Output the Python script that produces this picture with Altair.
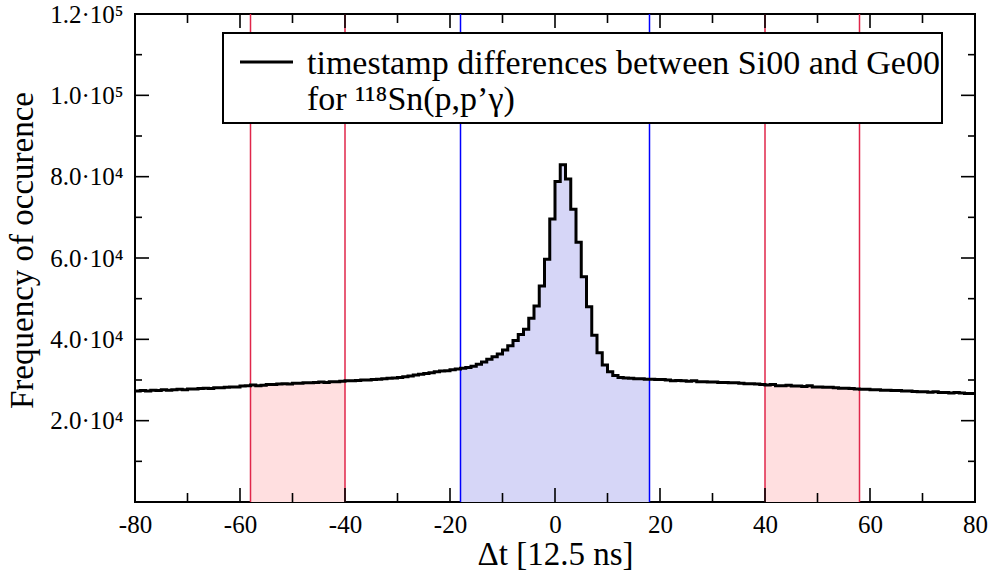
import altair as alt
import pandas as pd

# ---------------- data ----------------
# histogram bins of width 1, left edges -80 ... 79
bin_left = list(range(-80, 80))
# counts for bins -80 ... -19 (62 bins)
counts_left = [
    27300, 27400, 27300, 27500, 27400, 27600, 27500, 27600, 27700, 27600, 27800,
    27800, 27900, 28000, 27900, 28100, 28100, 28200, 28300, 28300, 28500, 28600,
    28800, 28600, 28700, 28900, 28900, 29000, 29100, 29000, 29200, 29200, 29300,
    29300, 29400, 29500, 29400, 29600, 29600, 29700,
    29800, 29800, 29900, 30000, 30000, 30100, 30200, 30300, 30400, 30500, 30600,
    30800, 31000, 31200, 31400, 31600, 31800, 32000, 32200, 32300, 32500, 32700,
]
# counts for bins -18 ... 17 (36 bins)
counts_peak = [
    32900, 33100, 33400, 33900, 34400, 35100, 35700, 36400, 37400, 38400, 39700,
    41200, 42500, 45200, 48200, 53100, 59700, 69600, 78800, 82900, 79400, 72000,
    63900, 55400, 48000, 41000, 36700, 33700, 32000, 31100, 30600, 30500, 30400,
    30300, 30300, 30200,
]
# counts for bins 18 ... 79 (62 bins)
counts_right = [
    30200, 30100, 30100, 30000, 29800, 29900, 29800, 29700, 29800, 29600, 29600,
    29500, 29500, 29400, 29400, 29300, 29300, 29200, 29100, 29100, 29000, 28900,
    28800, 28900, 28600, 28600, 28700, 28500, 28500, 28400, 28600, 28300, 28300,
    28200, 28200, 28100, 28000, 28000, 27900, 27800,
    27700, 27700, 27600, 27600, 27500, 27500, 27400, 27400, 27300, 27300, 27200,
    27100, 27100, 27000, 27100, 26900, 26900, 26800, 26900, 26800, 26700, 26700,
]
counts = counts_left + counts_peak + counts_right

x_end = 80
red_windows = [(-58, -40), (40, 58)]
blue_window = (-18, 18)

x_tick_labels = [-80, -60, -40, -20, 0, 20, 40, 60, 80]
x_major_ticks = [-60, -40, -20, 0, 20, 40, 60]
x_minor_ticks = [-70, -50, -30, -10, 10, 30, 50, 70]
y_tick_labels = [20000, 40000, 60000, 80000, 100000, 120000]
y_major_ticks = [20000, 40000, 60000, 80000, 100000]
y_minor_ticks = [10000, 30000, 50000, 70000, 90000, 110000]

legend_line1 = "timestamp differences between Si00 and Ge00"
legend_line2 = "for ¹¹⁸Sn(p,p’γ)"
x_title = "Δt [12.5 ns]"
y_title = "Frequency of occurence"

# ---------------- tables ----------------
hist = pd.DataFrame({"x": bin_left + [x_end], "n": counts + [counts[-1]]})

def window(lo, hi):
    return hist[(hist.x >= lo) & (hist.x <= hi)]

red_lines = pd.DataFrame({"x": [v for w in red_windows for v in w]})
blue_lines = pd.DataFrame({"x": list(blue_window)})

FONT = "'Liberation Serif', 'Times New Roman', serif"
W, H = 840, 488

xs = alt.Scale(domain=[-80, 80], nice=False, zero=False)
ys = alt.Scale(domain=[0, 120000], nice=False, zero=False)

x_axis = alt.Axis(
    values=x_tick_labels, ticks=False, domain=False, grid=False,
    labelExpr="datum.value < 0 ? '-' + abs(datum.value) : '' + datum.value",
    labelFont=FONT, labelFontSize=25, labelColor="black", labelPadding=10,
    labelFlush=False, labelOverlap=False, labelBound=False,
    title=x_title, titleFont=FONT, titleFontSize=33, titleFontWeight="normal",
    titleColor="black", titleX=420, titleY=52, titleAlign="center",
    titleBaseline="middle", titleAnchor="start",
)
y_axis = alt.Axis(
    values=y_tick_labels, ticks=False, domain=False, grid=False,
    labelExpr="datum.value >= 100000 ? format(datum.value/100000, '.1f') + '·10⁵' : format(datum.value/10000, '.1f') + '·10⁴'",
    labelFont=FONT, labelFontSize=25, labelColor="black", labelPadding=12,
    labelFlush=False, labelOverlap=False, labelBound=False,
    title=y_title, titleFont=FONT, titleFontSize=33, titleFontWeight="normal",
    titleColor="black", titleX=-113, titleY=236, titleAngle=-90,
    titleAlign="center", titleBaseline="middle", titleAnchor="start",
)

fills = []
for i, (lo, hi) in enumerate(red_windows):
    enc = dict(x=alt.X("x:Q", scale=xs), y=alt.Y("n:Q", scale=ys))
    if i == 0:
        enc = dict(x=alt.X("x:Q", scale=xs, axis=x_axis), y=alt.Y("n:Q", scale=ys, axis=y_axis))
    fills.append(
        alt.Chart(window(lo, hi)).mark_area(
            interpolate="step-after", color="#ffdfe0", opacity=1
        ).encode(**enc)
    )
fills.append(
    alt.Chart(window(*blue_window)).mark_area(
        interpolate="step-after", color="#d6d6f7", opacity=1
    ).encode(x=alt.X("x:Q", scale=xs), y=alt.Y("n:Q", scale=ys))
)

red_rules = alt.Chart(red_lines).mark_rule(color="#e0264a", strokeWidth=1.5).encode(
    x=alt.X("x:Q", scale=xs)
)
blue_rules = alt.Chart(blue_lines).mark_rule(color="#0000ff", strokeWidth=1.5).encode(
    x=alt.X("x:Q", scale=xs)
)

step = alt.Chart(hist).mark_line(
    interpolate="step-after", color="black", strokeWidth=3
).encode(x=alt.X("x:Q", scale=xs), y=alt.Y("n:Q", scale=ys))

def xticks(vals, length):
    df = pd.DataFrame({"x": vals})
    bot = alt.Chart(df).mark_rule(color="black", strokeWidth=1.6).encode(
        x=alt.X("x:Q", scale=xs), y=alt.value(H), y2=alt.value(H - length))
    top = alt.Chart(df).mark_rule(color="black", strokeWidth=1.6).encode(
        x=alt.X("x:Q", scale=xs), y=alt.value(0), y2=alt.value(length))
    return [bot, top]

def yticks(vals, length):
    df = pd.DataFrame({"y": vals})
    left = alt.Chart(df).mark_rule(color="black", strokeWidth=1.6).encode(
        y=alt.Y("y:Q", scale=ys), x=alt.value(0), x2=alt.value(length))
    right = alt.Chart(df).mark_rule(color="black", strokeWidth=1.6).encode(
        y=alt.Y("y:Q", scale=ys), x=alt.value(W), x2=alt.value(W - length))
    return [left, right]

one = pd.DataFrame({"a": [0]})
leg_box = alt.Chart(one).mark_rect(fill="white", stroke="black", strokeWidth=2).encode(
    x=alt.value(88), x2=alt.value(807), y=alt.value(19), y2=alt.value(109)
)
leg_line = alt.Chart(one).mark_rule(color="black", strokeWidth=3).encode(
    x=alt.value(105), x2=alt.value(158), y=alt.value(48)
)
leg_text1 = alt.Chart(pd.DataFrame({"t": [legend_line1]})).mark_text(
    align="left", baseline="alphabetic", font=FONT, fontSize=34, color="black"
).encode(x=alt.value(172), y=alt.value(60), text="t:N")
leg_text2 = alt.Chart(pd.DataFrame({"t": [legend_line2]})).mark_text(
    align="left", baseline="alphabetic", font=FONT, fontSize=34, color="black"
).encode(x=alt.value(172), y=alt.value(96), text="t:N")

layers = fills + [red_rules, blue_rules, step]
layers += xticks(x_major_ticks, 14) + xticks(x_minor_ticks, 9)
layers += yticks(y_major_ticks, 14) + yticks(y_minor_ticks, 7)
layers += [leg_box, leg_line, leg_text1, leg_text2]

chart = alt.layer(*layers).properties(
    width=W, height=H,
    autosize=alt.AutoSizeParams(type="none"),
    padding={"left": 135, "top": 14, "right": 17, "bottom": 81},
    background="white",
).configure_view(stroke="black", strokeWidth=2)

chart.save("out.html", embed_options={"renderer": "svg", "actions": False})
